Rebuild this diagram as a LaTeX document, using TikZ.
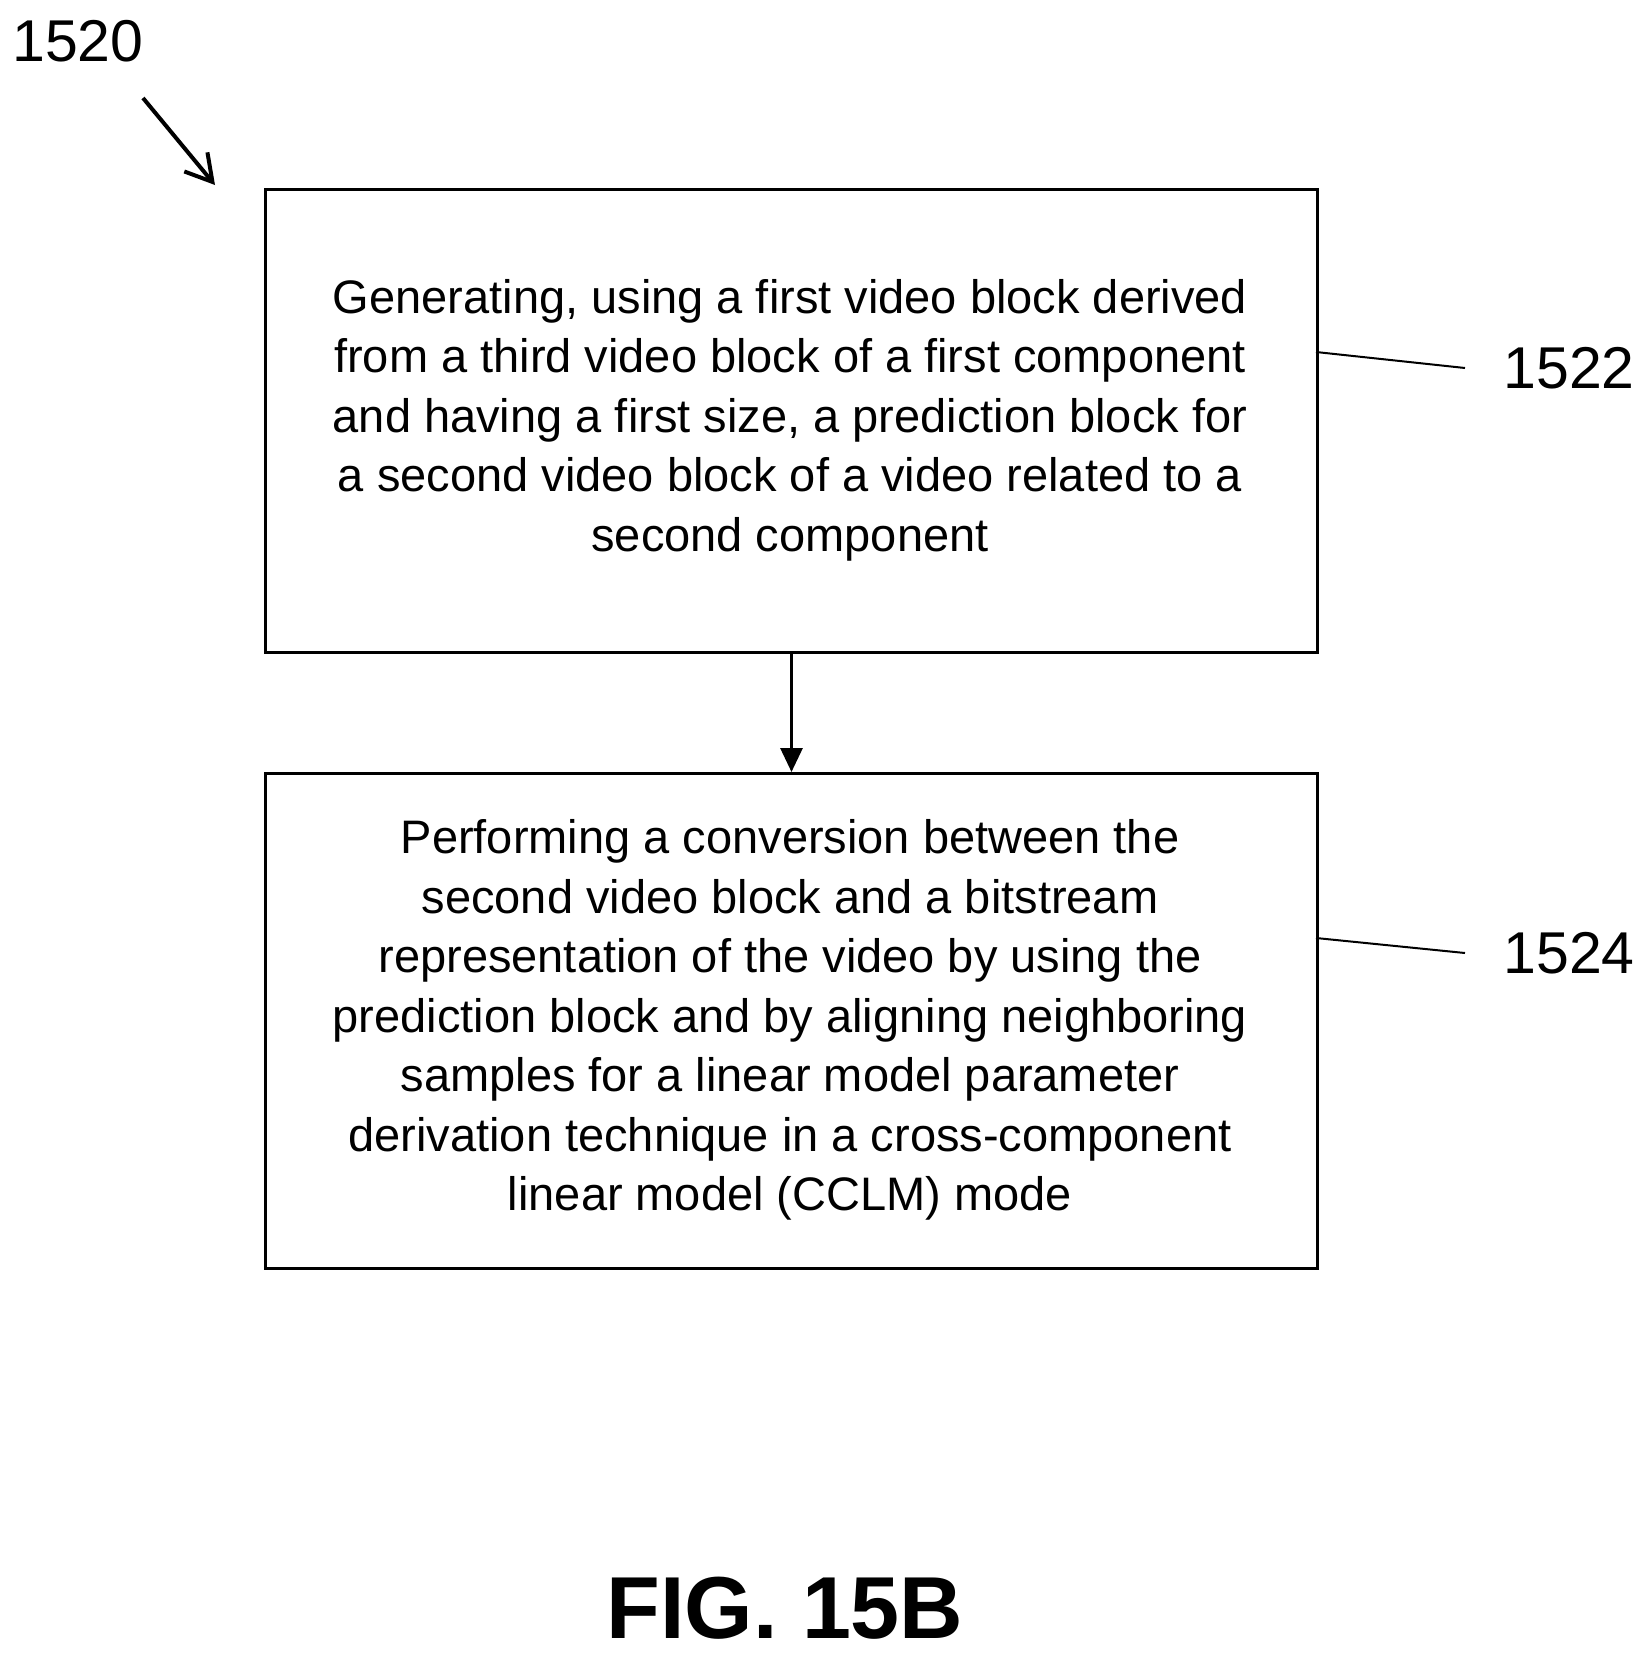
\documentclass[tikz,border=0pt]{standalone}
\usepackage{fontspec}
\setmainfont{Liberation Sans}
\usetikzlibrary{arrows.meta}
\begin{document}
\begin{tikzpicture}[x=1pt,y=-1pt,
  box/.style={draw,line width=3pt,minimum width=1052pt,anchor=north west,inner sep=0pt},
  body/.style={align=center,font=\fontsize{47}{59.5}\selectfont},
  lbl/.style={font=\fontsize{59}{70}\selectfont},
  lead/.style={line width=2pt}]
\useasboundingbox (0,0) rectangle (1650,1674);
\node[box,minimum height=463pt] (b1) at (264,188) {};
\node[body] (t1) at (790,420) {Generating, using a first video block derived\\from a third video block of a first component\\and having a first size, a prediction block for\\a second video block of a video related to a\\second component};
\node[box,minimum height=495pt] (b2) at (264,772) {};
\node[body] (t2) at (790,1020) {Performing a conversion between the\\second video block and a bitstream\\representation of the video by using the\\prediction block and by aligning neighboring\\samples for a linear model parameter\\derivation technique in a cross-component\\linear model (CCLM) mode};
\draw[line width=3pt,-{Triangle[length=24pt,width=22pt]}] (b1.south) -- (b2.north);
\node[lbl] (l1520) at (78,41) {1520};
\coordinate (a0) at (143,98);
\coordinate (a1) at (215,185);
\draw[line width=4pt,-{Straight Barb[length=26pt,width=30pt]}] (a0) -- (a1);
\coordinate (c1) at (1316,352);
\coordinate (c2) at (1465,368);
\draw[lead] (c1) -- (c2);
\node[lbl,anchor=west] (l1522) at (1500,368) {1522};
\coordinate (d1) at (1316,938);
\coordinate (d2) at (1465,953);
\draw[lead] (d1) -- (d2);
\node[lbl,anchor=west] (l1524) at (1500,953) {1524};
\node[font=\fontsize{88}{100}\selectfont\bfseries] (fig) at (785,1608) {FIG. 15B};
\end{tikzpicture}
\end{document}
